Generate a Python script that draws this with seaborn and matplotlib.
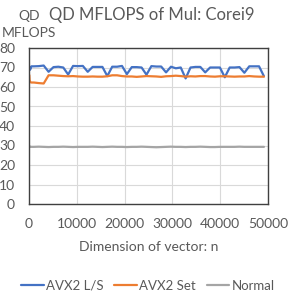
import matplotlib
matplotlib.use("Agg")
import matplotlib.pyplot as plt
import seaborn as sns
import pandas as pd

n_values = [64, 128, 256, 512,
            1024, 2048, 3072, 4096, 5120, 6144, 7168, 8192, 9216, 10240,
            11264, 12288, 13312, 14336, 15360, 16384, 17408, 18432, 19456, 20480,
            21504, 22528, 23552, 24576, 25600, 26624, 27648, 28672, 29696, 30720,
            31744, 32768, 33792, 34816, 35840, 36864, 37888, 38912, 39936, 40960,
            41984, 43008, 44032, 45056, 46080, 47104, 48128, 49152]

avx2_ls = [68.6, 70.3, 69.0, 70.6,
           70.6, 70.7, 71.0, 67.8, 70.2, 70.4, 70.0, 66.4, 70.8, 70.7,
           70.8, 67.8, 70.3, 70.3, 70.3, 65.6, 70.4, 70.4, 70.8, 66.6,
           70.2, 70.2, 70.0, 66.3, 70.7, 70.5, 70.5, 67.5, 70.4, 69.6,
           70.0, 64.4, 70.0, 70.3, 70.3, 67.5, 70.0, 70.0, 70.0, 65.0,
           70.0, 70.0, 70.2, 67.3, 70.6, 70.6, 70.6, 65.5]

avx2_set = [66.1, 63.5, 62.5, 62.3,
            62.3, 62.0, 61.8, 66.0, 66.0, 65.8, 65.6, 65.5, 65.6, 65.4,
            65.3, 65.3, 65.4, 65.3, 65.3, 65.5, 66.0, 66.0, 65.6, 65.4,
            65.4, 65.2, 65.4, 65.6, 65.5, 65.4, 65.2, 65.5, 65.6, 65.8,
            65.6, 65.3, 65.5, 65.4, 65.6, 65.6, 65.4, 65.3, 65.5, 65.5,
            65.4, 65.3, 65.4, 65.4, 65.6, 65.4, 65.3, 65.3]

normal = [29.3, 29.6, 29.4, 29.3,
          29.3, 29.4, 29.3, 29.2, 29.3, 29.3, 29.4, 29.3, 29.2, 29.3,
          29.3, 29.3, 29.4, 29.3, 29.2, 29.3, 29.4, 29.3, 29.3, 29.2,
          29.3, 29.3, 29.4, 29.3, 29.2, 29.1, 29.2, 29.3, 29.4, 29.3,
          29.3, 29.2, 29.3, 29.3, 29.4, 29.3, 29.2, 29.2, 29.3, 29.3,
          29.3, 29.3, 29.4, 29.3, 29.3, 29.3, 29.3, 29.3]

series_names = ["AVX2 L/S", "AVX2 Set", "Normal"]
colors = ["#4472C4", "#ED7D31", "#A5A5A5"]
x_ticks = [0, 10000, 20000, 30000, 40000, 50000]
y_ticks = [0, 10, 20, 30, 40, 50, 60, 70, 80]

df = pd.concat([
    pd.DataFrame({"n": n_values, "v": avx2_ls, "s": series_names[0]}),
    pd.DataFrame({"n": n_values, "v": avx2_set, "s": series_names[1]}),
    pd.DataFrame({"n": n_values, "v": normal, "s": series_names[2]}),
])

sns.set_theme(style="white")
plt.rcParams["font.family"] = ["Lato", "DejaVu Sans"]
txt = "#595959"
fs = 10

fig = plt.figure(figsize=(2.91, 2.99), dpi=100)
ax = fig.add_axes([29/291, 1-204/299, (268-29)/291, (204-48)/299])

sns.lineplot(data=df, x="n", y="v", hue="s", palette=colors, linewidth=1.6,
             ax=ax, legend=True, estimator=None, sort=False)

ax.set_xlim(0, 50000)
ax.set_ylim(0, 80)
ax.set_xticks(x_ticks)
ax.set_yticks(y_ticks)
ax.set_xticklabels([str(t) for t in x_ticks])
ax.set_yticklabels([str(t) for t in y_ticks])
ax.grid(True, color="#D9D9D9", linewidth=0.8)
ax.set_axisbelow(True)
for sp in ax.spines.values():
    sp.set_visible(True)
    sp.set_color("#404040")
    sp.set_linewidth(1.0)
ax.tick_params(axis="both", length=0, labelsize=fs, labelcolor=txt)
ax.tick_params(axis="x", pad=10)
ax.tick_params(axis="y", pad=10)

ax.set_xlabel("Dimension of vector: n", fontsize=fs, color=txt, labelpad=8)
ax.set_ylabel("")

fig.text(0.52, 1-15/299, "QD MFLOPS of Mul: Corei9", ha="center", va="center",
         fontsize=12, color=txt)
fig.text(29/291, 1-16/299, "QD", ha="center", va="center", fontsize=fs, color=txt)
fig.text(29/291, 1-33/299, "MFLOPS", ha="center", va="center", fontsize=fs, color=txt)

leg = ax.legend(loc="center", bbox_to_anchor=(148/291, 1-286/299),
                bbox_transform=fig.transFigure, ncol=3, frameon=False,
                fontsize=9.5, handlelength=1.7, handletextpad=0.2,
                columnspacing=0.8, borderpad=0, borderaxespad=0)
for t in leg.get_texts():
    t.set_color(txt)

fig.savefig("out.png", dpi=100)
